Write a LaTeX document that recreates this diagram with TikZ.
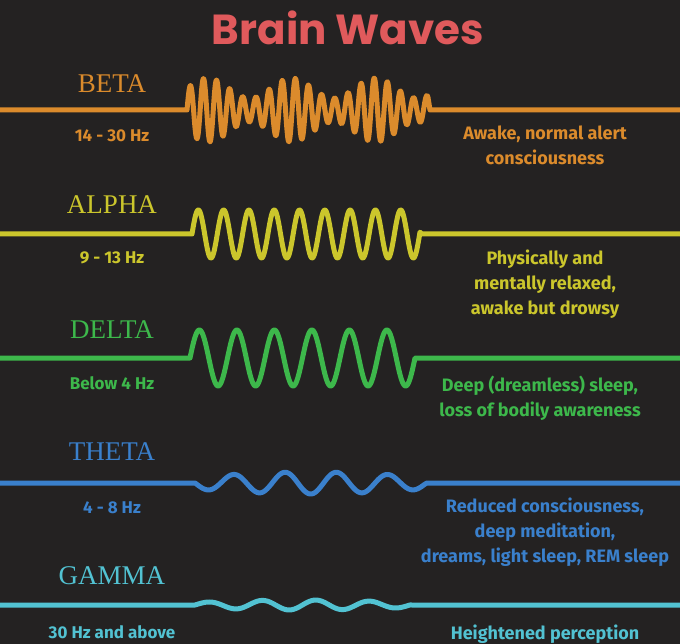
\documentclass[tikz,border=0pt]{standalone}
\usepackage{fontspec}
\setmainfont{Liberation Serif}
\newfontfamily\titlefont{Poppins}
\newfontfamily\descfont{Fira Sans}
\definecolor{bg}{HTML}{242222}
\definecolor{cbeta}{HTML}{DB8B2C}
\definecolor{calpha}{HTML}{CBC62C}
\definecolor{cdelta}{HTML}{3DB84B}
\definecolor{ctheta}{HTML}{3A80CC}
\definecolor{cgamma}{HTML}{52C2D2}
\definecolor{ctitle}{HTML}{E05A5C}
\begin{document}
\begin{tikzpicture}[x=1pt,y=-1pt,
  wave/.style={line width=5pt,line join=round,line cap=round},
  lbl/.style={font=\fontsize{27}{27}\selectfont},
  freq/.style={font=\descfont\bfseries\fontsize{17}{17}\selectfont},
  desc/.style={font=\descfont\bfseries\fontsize{18}{25}\selectfont,align=center}]
\fill[bg] (0,0) rectangle (680,644);
\useasboundingbox (0,0) rectangle (680,644);
\node[font=\titlefont\bfseries\fontsize{42}{42}\selectfont,text=ctitle] (title) at (348,28) {Brain Waves};
% BETA
\node[lbl,text=cbeta] (lb) at (112,84) {BETA};
\node[freq,text=cbeta] (fb) at (112,136) {14 - 30 Hz};
\node[desc,text=cbeta] (db) at (545,145) {Awake, normal alert\\consciousness};
\draw[wave,cbeta] (0,110) -- (187,110)
  plot[domain=187:428,samples=500,smooth] (\x,{110-(22+10*sin((\x-187)*4.3))*sin((\x-187)*27.4)})
  -- (430,110) -- (680,110);
% ALPHA
\node[lbl,text=calpha] (la) at (112,205) {ALPHA};
\node[freq,text=calpha] (fa) at (112,258) {9 - 13 Hz};
\node[desc,text=calpha] (da) at (545,284) {Physically and\\mentally relaxed,\\awake but drowsy};
\draw[wave,calpha] (0,234) -- (192,234)
  plot[domain=192:420,samples=400,smooth] (\x,{234-24*sin((\x-192)*14.23)})
  -- (422,234) -- (680,234);
% DELTA
\node[lbl,text=cdelta] (ld) at (112,330) {DELTA};
\node[freq,text=cdelta] (fd) at (112,383) {Below 4 Hz};
\node[desc,text=cdelta] (dd) at (540,398) {Deep (dreamless) sleep,\\loss of bodily awareness};
\draw[wave,cdelta] (0,358) -- (190,358)
  plot[domain=190:415,samples=400,smooth] (\x,{358-28*sin((\x-190)*9.6)})
  -- (417,358) -- (680,358);
% THETA
\node[lbl,text=ctheta] (lt) at (112,452) {THETA};
\node[freq,text=ctheta] (ft) at (112,508) {4 - 8 Hz};
\node[desc,text=ctheta] (dt) at (545,532) {Reduced consciousness,\\deep meditation,\\dreams, light sleep, REM sleep};
\draw[wave,ctheta] (0,483) -- (195,483)
  plot[domain=195:425,samples=300,smooth] (\x,{483+11*sin((\x-195)*7.0)*(0.55+0.45*sin((\x-195)*0.78))})
  -- (427,483) -- (680,483);
% GAMMA
\node[lbl,text=cgamma] (lg) at (112,576) {GAMMA};
\node[freq,text=cgamma] (fg) at (112,632) {30 Hz and above};
\node[desc,text=cgamma] (dg) at (545,634) {Heightened perception};
\draw[wave,cgamma] (0,605) -- (195,605)
  plot[domain=195:410,samples=300,smooth] (\x,{605-5*sin((\x-195)*6.7)*(0.5+0.5*sin((\x-195)*0.84))})
  -- (412,605) -- (680,605);
\end{tikzpicture}
\end{document}
